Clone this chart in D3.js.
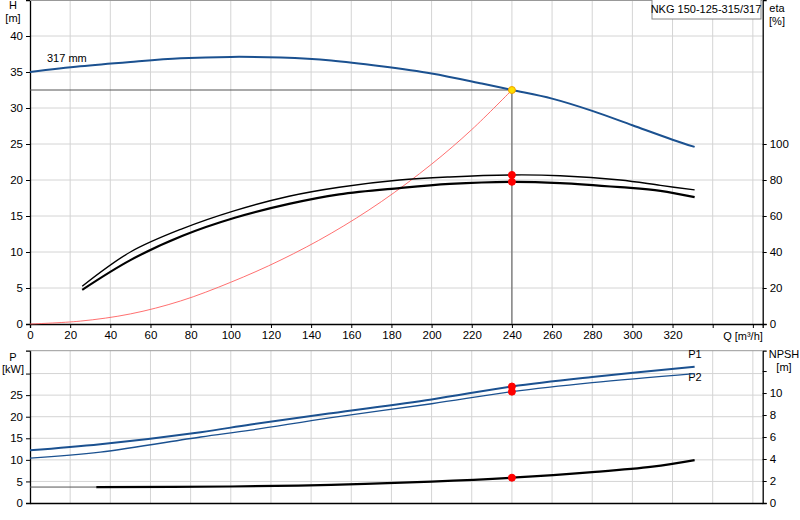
<!DOCTYPE html>
<html><head><meta charset="utf-8">
<script src="https://cdn.jsdelivr.net/npm/d3@7"></script>
<style>body{margin:0;background:#fff}text{font-family:Arial,"Liberation Sans",sans-serif;font-size:11px;fill:#000}</style>
</head><body><svg id="c" width="800" height="520"></svg>
<script>
const hQ=[0,25,50,75,100,125,150,175,200,225,240,260,280,300,320,331];
const hH=[35,35.8,36.4,36.9,37.1,37.0,36.6,35.8,34.8,33.4,32.5,31.3,29.6,27.6,25.6,24.6];
const etaQ=[26,50,76,102,129,154,184,209,240,264,294,314,331];
const eta1=[21,40,53,63,71,76,80,81.7,82.8,82.4,80,77,74.5];
const eta2=[19,35.5,49,59,66.7,72,75.5,77.8,79,78.3,76,74,70.5];
const sysQ=[0,25,50,75,100,125,150,175,200,220,240];
const sysH=[0,0.4,1.4,3.2,5.8,8.9,12.6,17.0,22.2,27.0,32.5];
const pQ=[0,35,85,110,150,200,240,280,331];
const p1=[12.2,13.6,16.4,18.2,20.8,24.0,27.0,29.2,31.6];
const p2=[10.4,11.8,15.3,16.9,19.8,23.0,25.8,27.9,30.0];
const npQ=[33,100,150,200,240,280,310,331];
const npsh=[1.45,1.5,1.65,1.95,2.3,2.8,3.3,3.9];
const dutyQ=240, dutyH=32.5;
const qTicks=[0,20,40,60,80,100,120,140,160,180,200,220,240,260,280,300,320];

const svg=d3.select("#c");
const L=30,R=762.7;
const x=d3.scaleLinear().domain([0,364.9]).range([L,R]);
const yH=d3.scaleLinear().domain([0,45]).range([324,0]);
const yE=d3.scaleLinear().domain([0,180]).range([324,0]);
const yP=d3.scaleLinear().domain([0,35.3]).range([503,350.7]);
const yN=d3.scaleLinear().domain([0,13.85]).range([503,350.7]);
const grid="#d4d4d4", blue="#1b5190";

function gridPanel(y0,y1,ys,vals){
  const g=svg.append("g");
  d3.range(20,361,20).forEach(q=>g.append("line").attr("x1",x(q)).attr("x2",x(q)).attr("y1",y0).attr("y2",y1).attr("stroke",grid));
  vals.forEach(v=>g.append("line").attr("x1",L).attr("x2",R).attr("y1",ys(v)).attr("y2",ys(v)).attr("stroke",grid));
}
gridPanel(0,324,yH,[5,10,15,20,25,30,35,40]);
gridPanel(350.7,503,yP,[5,10,15,20,25,30]);

svg.append("g").attr("transform",`translate(${L},0)`).call(d3.axisLeft(yH).tickValues([0,5,10,15,20,25,30,35,40]).tickSize(4).tickPadding(3));
svg.append("g").attr("transform",`translate(${R},0)`).call(d3.axisRight(yE).tickValues([0,20,40,60,80,100]).tickSize(4).tickPadding(3));
svg.append("g").attr("transform",`translate(0,324)`).call(d3.axisBottom(x).tickValues(qTicks.concat([340,360])).tickSize(4).tickFormat(d=>d>320?"":d));
svg.append("line").attr("x1",L).attr("x2",R).attr("y1",0.5).attr("y2",0.5).attr("stroke","#999");
svg.append("g").attr("transform",`translate(${L},0)`).call(d3.axisLeft(yP).tickValues([0,5,10,15,20,25,30]).tickSize(4).tickFormat(d=>d==30?"":d));
svg.append("g").attr("transform",`translate(${R},0)`).call(d3.axisRight(yN).tickValues([0,2,4,6,8,10,12]).tickSize(4).tickFormat(d=>d==12?"":d));
svg.append("g").attr("transform",`translate(0,503)`).call(d3.axisBottom(x).tickValues([]).tickSizeOuter(0));
svg.append("line").attr("x1",L).attr("x2",R).attr("y1",350.7).attr("y2",350.7).attr("stroke","#999");
svg.selectAll(".domain").attr("stroke","#000").attr("stroke-width",1.3);
svg.selectAll(".tick text").style("font-size","11.5px");

const t=(s,X,Y,a="start")=>svg.append("text").attr("x",X).attr("y",Y).attr("text-anchor",a).text(s);
t("H",13,9,"middle");t("[m]",13,22,"middle");
t("eta",777,12,"middle");t("[%]",777,25,"middle");
t("Q [m³/h]",743,340,"middle");
t("P",13,361,"middle");t("[kW]",13,373,"middle");
t("NPSH",784,358,"middle");t("[m]",784,371,"middle");
t("317 mm",47,62);
t("P1",695,358,"middle");t("P2",695,381,"middle");
svg.append("rect").attr("x",652).attr("y",-1).attr("width",109).attr("height",20).attr("fill","#fff").attr("stroke","#888");
t("NKG 150-125-315/317",706,13,"middle");

const line=(xs,ys,sx,sy)=>d3.line().curve(d3.curveCatmullRom)(xs.map((q,i)=>[sx(q),sy(ys[i])]));
svg.append("line").attr("x1",L).attr("x2",x(dutyQ)).attr("y1",yH(dutyH)).attr("y2",yH(dutyH)).attr("stroke","#555");
svg.append("line").attr("x1",x(dutyQ)).attr("x2",x(dutyQ)).attr("y1",yH(dutyH)).attr("y2",324).attr("stroke","#555");
svg.append("line").attr("x1",L).attr("x2",x(npQ[0])).attr("y1",yN(npsh[0])).attr("y2",yN(npsh[0])).attr("stroke","#555");

svg.append("path").attr("d",line(sysQ,sysH,x,yH)).attr("fill","none").attr("stroke","#ff6060").attr("stroke-width",0.9);
svg.append("path").attr("d",line(hQ,hH,x,yH)).attr("fill","none").attr("stroke",blue).attr("stroke-width",2);
svg.append("path").attr("d",line(etaQ,eta1,x,yE)).attr("fill","none").attr("stroke","#000").attr("stroke-width",1.4);
svg.append("path").attr("d",line(etaQ,eta2,x,yE)).attr("fill","none").attr("stroke","#000").attr("stroke-width",2.2);
svg.append("path").attr("d",line(pQ,p1,x,yP)).attr("fill","none").attr("stroke",blue).attr("stroke-width",2);
svg.append("path").attr("d",line(pQ,p2,x,yP)).attr("fill","none").attr("stroke",blue).attr("stroke-width",1.3);
svg.append("path").attr("d",line(npQ,npsh,x,yN)).attr("fill","none").attr("stroke","#000").attr("stroke-width",2.2);

const dot=(X,Y,f,s)=>svg.append("circle").attr("cx",X).attr("cy",Y).attr("r",3.5).attr("fill",f).attr("stroke",s||f);
dot(x(dutyQ),yE(eta1[8]),"#f00");dot(x(dutyQ),yE(eta2[8]),"#f00");
dot(x(dutyQ),yP(p1[6]),"#f00");dot(x(dutyQ),yP(p2[6]),"#f00");
dot(x(dutyQ),yN(npsh[4]),"#f00");
dot(x(dutyQ),yH(dutyH),"#ffe000","#f0a000");
</script></body></html>
